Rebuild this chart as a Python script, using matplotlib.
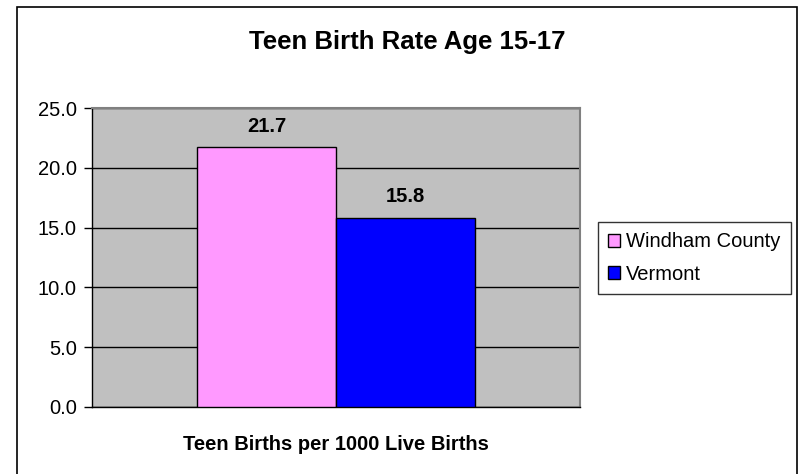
import matplotlib.pyplot as plt
from matplotlib.patches import Patch, Rectangle

# Data
series = ['Windham County', 'Vermont']
values = [21.7, 15.8]
colors = ['#FF99FF', '#0000FF']
yticks = [0.0, 5.0, 10.0, 15.0, 20.0, 25.0]

TITLE = 'Teen Birth Rate Age 15-17'
XLABEL = 'Teen Births per 1000 Live Births'
FONT = 'Liberation Sans'
W, H = 802, 474

plt.rcParams['font.family'] = [FONT, 'DejaVu Sans']

fig = plt.figure(figsize=(W / 100, H / 100), dpi=100)
fig.patch.set_facecolor('white')

# outer chart border
fig.add_artist(Rectangle((17 / W, -0.02), 780 / W, (H - 7) / H + 0.02,
                         transform=fig.transFigure, fill=False,
                         edgecolor='black', linewidth=1.2, clip_on=False))

ax = fig.add_axes([92 / W, (H - 407) / H, 488 / W, 299 / H])
ax.set_facecolor('#C0C0C0')

positions = [-0.5, 0.5]
bars = ax.bar(positions, values, width=1.0, color=colors,
              edgecolor='black', linewidth=1.0, zorder=3)

for x, v in zip(positions, values):
    ax.text(x, v + 1.0, f'{v:.1f}', ha='center', va='bottom',
            fontsize=14.5, fontweight='bold', zorder=4)

ax.set_xlim(-244 / 139, 244 / 139)
ax.set_ylim(0, 25)
ax.set_yticks(yticks)
ax.set_yticklabels([f'{t:.1f}' for t in yticks], fontsize=14.5)
ax.set_xticks([])
ax.tick_params(axis='y', direction='out', length=6, width=1, pad=5)
ax.yaxis.grid(True, color='black', linewidth=1.0, zorder=1)
ax.set_axisbelow(True)

for side in ['top', 'right']:
    ax.spines[side].set_color('#808080')
    ax.spines[side].set_linewidth(1.5)
for side in ['left', 'bottom']:
    ax.spines[side].set_color('black')
    ax.spines[side].set_linewidth(1.0)

ax.set_xlabel(XLABEL, fontsize=14.5, fontweight='bold', labelpad=20)

fig.text(407 / W, (H - 42) / H, TITLE, ha='center', va='center',
         fontsize=18.5, fontweight='bold')

handles = [Patch(facecolor=c, edgecolor='black', linewidth=1.0) for c in colors]
leg = fig.legend(handles, series, loc='center left',
                 bbox_to_anchor=(598 / W, (H - 258) / H),
                 fontsize=14.5, frameon=True, fancybox=False, shadow=False,
                 handlelength=0.6, handleheight=0.6, handletextpad=0.3,
                 borderpad=0.5, labelspacing=0.65, borderaxespad=0.0)
leg.get_frame().set_edgecolor('black')
leg.get_frame().set_linewidth(1.0)

fig.savefig('out.png', dpi=100, facecolor='white')
